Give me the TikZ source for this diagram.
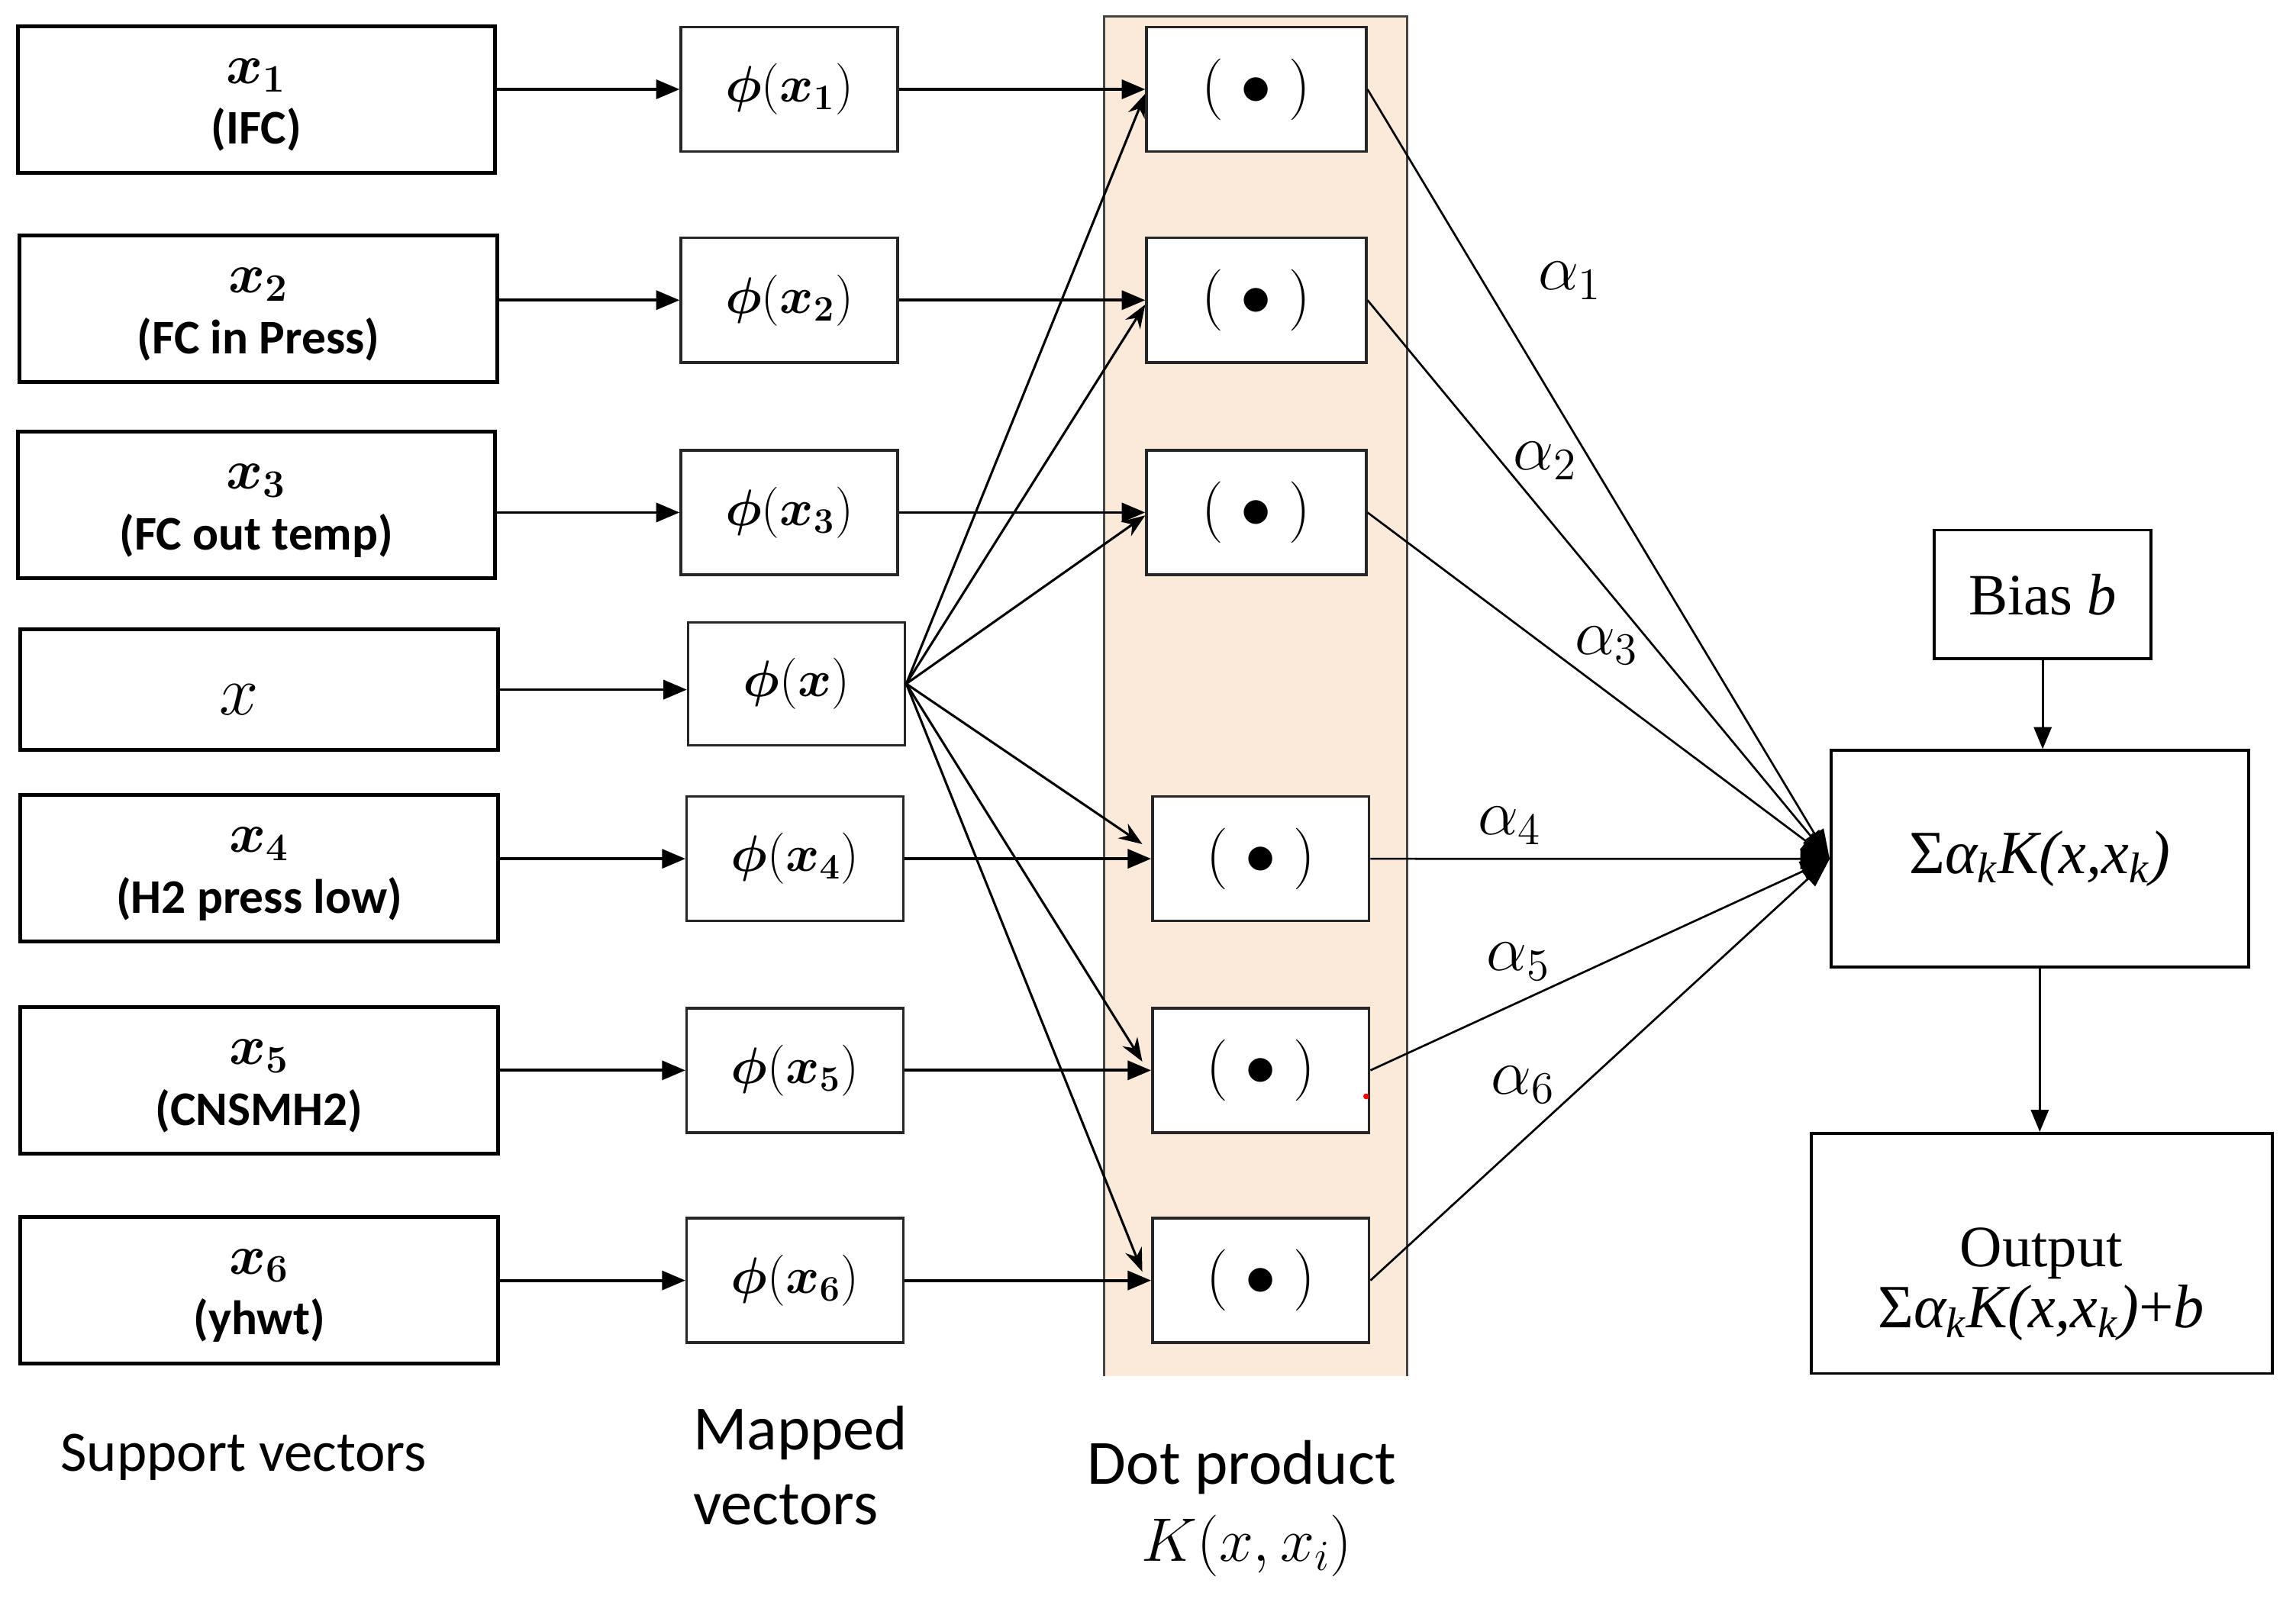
\RequirePackage{fix-cm}
\documentclass[tikz,border=0pt]{standalone}
\usepackage{amsmath}
\usepackage{fontspec}
\newfontfamily\carl{Carlito}
\newfontfamily\tnr{Liberation Serif}
\usetikzlibrary{arrows.meta}
\newcommand\fsz[1]{\fontsize{#1}{#1}\selectfont}
\newcommand\lblfont{\carl\bfseries\fontsize{16.5}{19}\selectfont}
\definecolor{bandfill}{RGB}{251,233,218}
\definecolor{bandline}{RGB}{70,70,70}
\begin{document}
\begin{tikzpicture}[x=0.5pt,y=-0.5pt,
  svbox/.style={draw=black, line width=1.3pt, minimum width=163pt, minimum height=50pt, inner sep=0pt, fill=white},
  mapbox/.style={draw=black!85, line width=0.9pt, minimum width=74pt, minimum height=42.5pt, inner sep=0pt, fill=white, font=\fsz{17.5}},
  dotbox/.style={draw=black!85, line width=0.9pt, minimum width=75pt, minimum height=42.5pt, inner sep=0pt, fill=white, font=\fsz{21}},
  rbox/.style={draw=black, line width=1pt, inner sep=0pt, fill=white},
  txt/.style={inner sep=0pt, anchor=base},
  harr/.style={line width=1pt, -{Triangle[length=8pt,width=6.5pt]}},
  fan/.style={line width=0.8pt, -{Stealth[length=8pt,width=6pt]}},
  conv/.style={line width=0.7pt, -{Triangle[length=10pt,width=7pt]}},
  varr/.style={line width=0.8pt, -{Triangle[length=7.5pt,width=6pt]}}]
\useasboundingbox (0,0) rectangle (1568,1092);
% band
\fill[bandfill] (754,11) rectangle (961,940);
\draw[bandline, line width=0.8pt] (754,940) -- (754,11) -- (961,11) -- (961,940);
% support vectors
\node[svbox] (s1) at (175,68) {};
\node[txt, font=\fsz{19}] (s1m) at (175,57) {$\boldsymbol{x_1}$};
\node[txt, font=\lblfont] (s1l) at (175,98.5) {(IFC)};
\node[svbox] (s2) at (176.5,211) {};
\node[txt, font=\fsz{19}] (s2m) at (176.5,200) {$\boldsymbol{x_2}$};
\node[txt, font=\lblfont] (s2l) at (176.5,241.5) {(FC in Press)};
\node[svbox] (s3) at (175,345) {};
\node[txt, font=\fsz{19}] (s3m) at (175,334) {$\boldsymbol{x_3}$};
\node[txt, font=\lblfont] (s3l) at (175,375.5) {(FC out temp)};
\node[svbox, minimum height=41pt] (sx) at (177,471) {};
\node[txt, font=\fsz{24}] (sxm) at (163,488) {$x$};
\node[svbox] (s4) at (177,593) {};
\node[txt, font=\fsz{19}] (s4m) at (177,582) {$\boldsymbol{x_4}$};
\node[txt, font=\lblfont] (s4l) at (177,623.5) {(H2 press low)};
\node[svbox] (s5) at (177,738) {};
\node[txt, font=\fsz{19}] (s5m) at (177,727) {$\boldsymbol{x_5}$};
\node[txt, font=\lblfont] (s5l) at (177,768.5) {(CNSMH2)};
\node[svbox] (s6) at (177,881) {};
\node[txt, font=\fsz{19}] (s6m) at (177,870) {$\boldsymbol{x_6}$};
\node[txt, font=\lblfont] (s6l) at (177,911.5) {(yhwt)};
% mapped vectors
\node[mapbox] (p1) at (539,61) {$\boldsymbol{\phi}(\boldsymbol{x_1})$};
\node[mapbox] (p2) at (539,205) {$\boldsymbol{\phi}(\boldsymbol{x_2})$};
\node[mapbox] (p3) at (539,350) {$\boldsymbol{\phi}(\boldsymbol{x_3})$};
\node[mapbox, minimum height=42pt] (px) at (544,467) {$\boldsymbol{\phi}(\boldsymbol{x})$};
\node[mapbox] (p4) at (543,586.5) {$\boldsymbol{\phi}(\boldsymbol{x_4})$};
\node[mapbox] (p5) at (543,731) {$\boldsymbol{\phi}(\boldsymbol{x_5})$};
\node[mapbox] (p6) at (543,874.5) {$\boldsymbol{\phi}(\boldsymbol{x_6})$};
% dot products
\node[dotbox] (d1) at (858,61) {$(\;\mathord{\bullet}\;)$};
\node[dotbox] (d2) at (858,205) {$(\;\mathord{\bullet}\;)$};
\node[dotbox] (d3) at (858,350) {$(\;\mathord{\bullet}\;)$};
\node[dotbox, minimum width=74pt] (d4) at (861,586.5) {$(\;\mathord{\bullet}\;)$};
\node[dotbox, minimum width=74pt] (d5) at (861,731) {$(\;\mathord{\bullet}\;)$};
\node[dotbox, minimum width=74pt] (d6) at (861,874.5) {$(\;\mathord{\bullet}\;)$};
\fill[red] (933,748.8) circle (2);
% right side
\node[rbox, minimum width=74pt, minimum height=44pt, font=\tnr\fsz{20}] (bias) at (1395,406) {Bias \textit{b}};
\node[rbox, minimum width=142.5pt, minimum height=74pt, font=\tnr\fsz{21}] (sum) at (1393,586.6) {Σ{\itshape α\textsubscript{k}K(x,x\textsubscript{k})}};
\node[rbox, minimum width=157.5pt, minimum height=82pt] (out) at (1394.5,856) {};
\node[txt, font=\tnr\fsz{20}] (outa) at (1394,865) {Output};
\node[txt, font=\tnr\fsz{21}] (outb) at (1394,907) {Σ{\itshape α\textsubscript{k}K(x,x\textsubscript{k})}+\textit{b}};
% arrows support -> mapped
\draw[harr] (s1.east |- p1.west) -- (p1.west);
\draw[harr] (s2.east |- p2.west) -- (p2.west);
\draw[harr] (s3.east |- p3.west) -- (p3.west);
\draw[harr] (sx.east) -- (sx.east -| px.west);
\draw[harr] (s4.east |- p4.west) -- (p4.west);
\draw[harr] (s5.east |- p5.west) -- (p5.west);
\draw[harr] (s6.east |- p6.west) -- (p6.west);
% mapped -> dot
\draw[harr] (p1.east) -- (p1.east -| d1.west);
\draw[harr] (p2.east) -- (p2.east -| d2.west);
\draw[harr] (p3.east) -- (p3.east -| d3.west);
\draw[harr] (p4.east) -- (p4.east -| d4.west);
\draw[harr] (p5.east) -- (p5.east -| d5.west);
\draw[harr] (p6.east) -- (p6.east -| d6.west);
% fan
\draw[fan] (px.east) -- ([yshift=-1.5pt]d1.west);
\draw[fan] (px.east) -- ([yshift=-1.5pt]d2.west);
\draw[fan] (px.east) -- ([yshift=-1pt]d3.west);
\draw[fan] (px.east) -- ([yshift=5pt,xshift=-3pt]d4.west);
\draw[fan] (px.east) -- ([yshift=3pt,xshift=-3pt]d5.west);
\draw[fan] (px.east) -- ([yshift=3pt,xshift=-3pt]d6.west);
% dot -> sum
\draw[conv] (d1.east) -- (sum.west);
\draw[conv] (d2.east) -- (sum.west);
\draw[conv] (d3.east) -- (sum.west);
\draw[conv] (d4.east) -- (sum.west);
\draw[conv] (d5.east) -- (sum.west);
\draw[conv] (d6.east) -- (sum.west);
\draw[varr] (bias.south) -- (bias.south |- sum.north);
\draw[varr] (sum.south) -- (sum.south |- out.north);
% alpha labels
\node[txt, anchor=base west, font=\fsz{22}] (a1) at (1050,198) {$\alpha_1$};
\node[txt, anchor=base west, font=\fsz{22}] (a2) at (1033,321) {$\alpha_2$};
\node[txt, anchor=base west, font=\fsz{22}] (a3) at (1075,447) {$\alpha_3$};
\node[txt, anchor=base west, font=\fsz{22}] (a4) at (1009,570) {$\alpha_4$};
\node[txt, anchor=base west, font=\fsz{22}] (a5) at (1015,663) {$\alpha_5$};
\node[txt, anchor=base west, font=\fsz{22}] (a6) at (1018,747) {$\alpha_6$};
% bottom captions
\node[txt, anchor=base west, font=\carl\fsz{19.5}] (capS) at (41,1005) {Support vectors};
\node[txt, anchor=base west, font=\carl\fsz{21.5}] (capM1) at (473,990) {Mapped};
\node[txt, anchor=base west, font=\carl\fsz{21.5}] (capM2) at (473,1041) {vectors};
\node[txt, font=\carl\fsz{21.5}] (capD1) at (848,1013.5) {Dot product};
\node[txt, font=\fsz{21}] (capD2) at (851.5,1066) {$K(x,x_i)$};
\end{tikzpicture}
\end{document}
